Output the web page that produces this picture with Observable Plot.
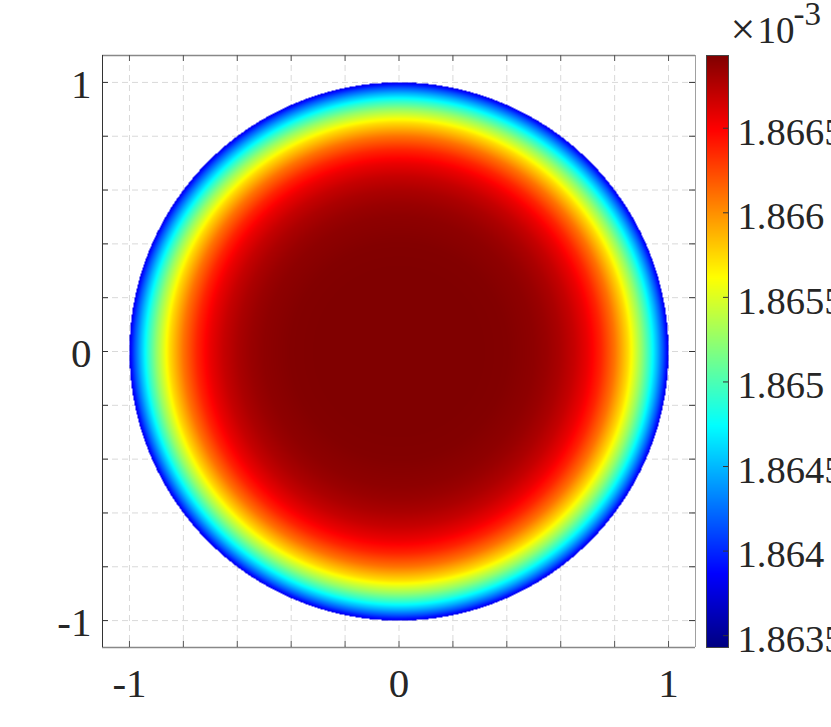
<!DOCTYPE html>
<html><head><meta charset="utf-8">
<script src="https://cdn.jsdelivr.net/npm/d3@7"></script>
<script src="https://cdn.jsdelivr.net/npm/@observablehq/plot@0.6"></script>
<style>
html,body{margin:0;padding:0;background:#fff;overflow:hidden;}
#wrap{position:relative;width:831px;height:727px;overflow:hidden;background:#fff;}
#wrap svg{position:absolute;top:0;overflow:hidden;max-width:none;}
</style></head><body><div id="wrap"></div>
<script>
// Radial profile of the field (value in units of 1e-3)
const radii  = [0, 0.1, 0.2, 0.3, 0.4, 0.5, 0.55, 0.6, 0.65, 0.7, 0.75, 0.8, 0.85, 0.9, 0.93, 0.96, 0.98, 1.0];
const values = [1.86693, 1.86693, 1.86693, 1.86693, 1.86692, 1.86688, 1.86684, 1.86678, 1.86669, 1.86656, 1.86637, 1.86610, 1.86574, 1.86525, 1.86490, 1.86447, 1.86415, 1.86378];
const colorMin = 1.86343, colorMax = 1.86693;
const cbTicks = [1.8635, 1.864, 1.8645, 1.865, 1.8655, 1.866, 1.8665];
const cbTickLabels = ["1.8635", "1.864", "1.8645", "1.865", "1.8655", "1.866", "1.8665"];
const gridVals = [-1, -0.8, -0.6, -0.4, -0.2, 0, 0.2, 0.4, 0.6, 0.8, 1];
const axisTicks = [-1, 0, 1];
const axisTickLabels = ["-1", "0", "1"];
const timesLabel = "\u00d7";
const baseLabel = "10";
const exponentLabel = "-3";

const jetStops = [0, 0.125, 0.375, 0.625, 0.875, 1];
const jetColors = ["#000080", "#0000ff", "#00ffff", "#ffff00", "#ff0000", "#800000"];
const jetScale = d3.scaleLinear().domain(jetStops).range(jetColors).interpolate(d3.interpolateRgb).clamp(true);
const jet = t => jetScale(t);
const profile = d3.scaleLinear().domain(radii).range(values).clamp(true);

const font = "'Liberation Serif', 'Times New Roman', serif";
const txt = "#262626";
const lim = 1.1;
const tl = 6 / 269;
const colorOpts = {type: "linear", domain: [colorMin, colorMax], interpolate: jet};

const main = Plot.plot({
  width: 831, height: 727,
  marginLeft: 102, marginRight: 136, marginTop: 55, marginBottom: 80,
  x: {domain: [-lim, lim], axis: null},
  y: {domain: [-lim, lim], axis: null},
  color: colorOpts,
  style: {fontFamily: font, background: "white", overflow: "hidden"},
  marks: [
    Plot.ruleX(gridVals, {x: d => d, stroke: "#d9d9d9", strokeDasharray: "6,4"}),
    Plot.ruleY(gridVals, {y: d => d, stroke: "#d9d9d9", strokeDasharray: "6,4"}),
    Plot.raster({
      fill: (x, y) => { const r = Math.hypot(x, y); return r <= 1 ? profile(r) : NaN; },
      x1: -lim, x2: lim, y1: -lim, y2: lim
    }),
    // box
    Plot.ruleX([lim], {x: d => d, stroke: "#a0a0a0"}),
    Plot.ruleY([lim], {y: d => d, stroke: "#888", strokeWidth: 1.5}),
    Plot.ruleY([-lim], {y: d => d, stroke: "#888", strokeWidth: 1.5}),
    Plot.ruleX([-lim], {x: d => d, stroke: "#333"}),
    // inward ticks
    Plot.ruleY(gridVals, {y: d => d, x1: -lim, x2: -lim + tl, stroke: "#333"}),
    Plot.ruleY(gridVals, {y: d => d, x1: lim - tl, x2: lim, stroke: "#333"}),
    Plot.ruleX(gridVals, {x: d => d, y1: -lim, y2: -lim + tl, stroke: "#555"}),
    Plot.ruleX(gridVals, {x: d => d, y1: lim - tl, y2: lim, stroke: "#555"}),
    // tick labels
    Plot.text(axisTicks, {x: d => d, frameAnchor: "bottom", text: (d, i) => axisTickLabels[i],
      lineAnchor: "middle", dy: 36, fontSize: 41, fill: txt}),
    Plot.text(axisTicks, {y: d => d, frameAnchor: "left", text: (d, i) => axisTickLabels[i],
      textAnchor: "end", lineAnchor: "middle", dx: -11, dy: 2, fontSize: 41, fill: txt})
  ]
});
main.style.left = "0px";

const cb = Plot.plot({
  width: 133, height: 727,
  marginLeft: 8, marginRight: 103, marginTop: 55, marginBottom: 80,
  x: {domain: [0, 1], axis: null},
  y: {domain: [colorMin, colorMax], axis: null},
  color: colorOpts,
  style: {fontFamily: font, background: "transparent", overflow: "hidden"},
  marks: [
    Plot.raster({fill: (x, y) => y, x1: 0, x2: 1, y1: colorMin, y2: colorMax}),
    Plot.frame({stroke: "#444"}),
    Plot.ruleY(cbTicks, {y: d => d, x1: 1 - 5 / 22, x2: 1, stroke: "#333"}),
    Plot.text(cbTicks, {y: d => d, frameAnchor: "right", text: (d, i) => cbTickLabels[i],
      textAnchor: "start", lineAnchor: "middle", dx: 9, dy: 4, fontSize: 38.5, fill: txt}),
    Plot.text([timesLabel], {frameAnchor: "top-left", text: d => d, textAnchor: "start",
      lineAnchor: "middle", dx: 24, dy: -26, fontSize: 44, fill: txt}),
    Plot.text([baseLabel], {frameAnchor: "top-left", text: d => d, textAnchor: "start",
      lineAnchor: "middle", dx: 51, dy: -24, fontSize: 37, fill: txt}),
    Plot.text([exponentLabel], {frameAnchor: "top-left", text: d => d, textAnchor: "start",
      lineAnchor: "middle", dx: 87, dy: -40.6, fontSize: 33, fill: txt})
  ]
});
cb.style.left = "698px";

document.getElementById("wrap").append(main, cb);
</script>
</body></html>
